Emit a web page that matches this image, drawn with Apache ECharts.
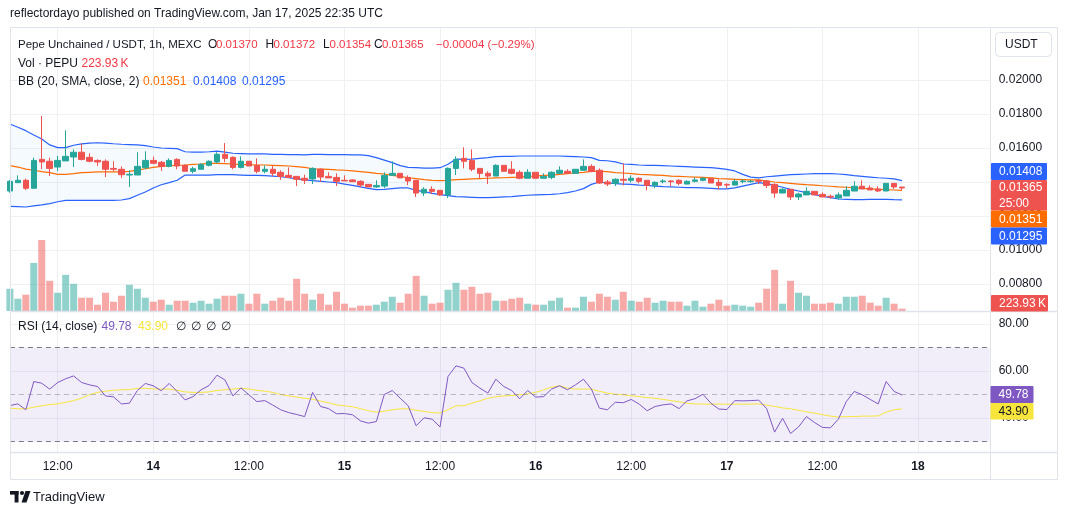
<!DOCTYPE html>
<html>
<head>
<meta charset="utf-8">
<title>PEPU/USDT 1h</title>
<script src="https://cdn.jsdelivr.net/npm/echarts@6.0.0/dist/echarts.min.js"></script>
<style>
html,body{margin:0;padding:0;background:#ffffff;}
#chart{width:1068px;height:515px;}
</style>
</head>
<body>
<div id="chart"></div>
<script>
// ---------------- data ----------------
const firstCandleUTC = Date.UTC(2025, 0, 13, 6, 0); // first hourly candle: Jan 13 2025 06:00 UTC
const timeSlots = 124;                              // hourly slots on the time scale (113 candles + empty future)

const opens = [
0.01347,0.01396,0.0141,0.01363,0.01533,0.01522,0.01488,0.01524,0.01547,0.01575,
0.01545,0.01527,0.01522,0.0148,0.01475,0.01441,0.01441,0.01484,0.01527,0.01516,
0.01492,0.01533,0.01498,0.01463,0.01475,0.01498,0.01518,0.01563,0.01545,0.01486,
0.01522,0.01498,0.01463,0.01475,0.01457,0.01439,0.01433,0.01422,0.01418,0.01475,
0.01433,0.01427,0.0141,0.01412,0.01404,0.01386,0.01371,0.01376,0.01439,0.01451,
0.01427,0.0141,0.01335,0.01357,0.01351,0.01324,0.0148,0.01539,0.01527,0.0148,
0.01451,0.01435,0.01498,0.01475,0.01457,0.01422,0.01457,0.01422,0.01427,0.01451,
0.01463,0.01451,0.01469,0.01492,0.01469,0.014,0.01392,0.01416,0.0141,0.01422,
0.0141,0.0138,0.01402,0.01406,0.0141,0.01388,0.01404,0.0141,0.01422,0.01398,
0.01386,0.01382,0.01402,0.01402,0.01408,0.01406,0.01386,0.01335,0.01357,0.01312,
0.01324,0.01345,0.01327,0.01316,0.01306,0.01318,0.01347,0.01375,0.01365,0.01359,
0.01347,0.01392,0.0137];
const closes = [
0.01404,0.0141,0.01363,0.01527,0.01518,0.0148,0.01527,0.01551,0.01575,0.01533,
0.01522,0.01518,0.01475,0.01475,0.01443,0.01445,0.01492,0.01527,0.0151,0.01492,
0.01527,0.01494,0.01463,0.01478,0.01504,0.01522,0.01563,0.01539,0.01486,0.01522,
0.01494,0.01463,0.01475,0.01451,0.01433,0.01427,0.01416,0.0141,0.0148,0.01429,
0.01424,0.01404,0.01406,0.01402,0.01382,0.01371,0.0138,0.01439,0.01451,0.01424,
0.01406,0.01335,0.01357,0.01345,0.01324,0.0148,0.01533,0.01522,0.01475,0.01451,
0.01435,0.01498,0.01463,0.01451,0.01422,0.01457,0.01422,0.01433,0.01457,0.01469,
0.01451,0.01475,0.01492,0.01463,0.01394,0.01388,0.01416,0.0141,0.01422,0.01404,
0.0138,0.01398,0.01406,0.01402,0.01392,0.01404,0.01412,0.01422,0.01394,0.0138,
0.01382,0.01404,0.01406,0.01404,0.01404,0.0138,0.01335,0.01357,0.01312,0.01329,
0.01345,0.01324,0.01312,0.01312,0.01324,0.01351,0.01375,0.01359,0.01353,0.01347,
0.01392,0.01371,0.01365];
const lows = [
0.01337,0.01396,0.01353,0.01363,0.01475,0.01435,0.01463,0.01524,0.01488,0.01527,
0.01516,0.01494,0.01429,0.01463,0.01424,0.01371,0.01441,0.01475,0.01504,0.01465,
0.01486,0.01475,0.01463,0.01451,0.01475,0.01492,0.0151,0.01516,0.01475,0.0148,
0.01494,0.01451,0.01451,0.01433,0.01412,0.01424,0.01376,0.01388,0.01388,0.014,
0.01424,0.01376,0.01406,0.014,0.01369,0.01371,0.01365,0.01365,0.01439,0.01424,
0.01382,0.01312,0.01318,0.01329,0.01318,0.01306,0.01441,0.0148,0.01463,0.01422,
0.01388,0.01435,0.01463,0.01445,0.01416,0.01422,0.01422,0.01422,0.01416,0.01445,
0.01451,0.01451,0.01469,0.01457,0.01388,0.01376,0.01376,0.0138,0.01398,0.01392,
0.01351,0.01363,0.01392,0.01375,0.0138,0.01386,0.01398,0.01404,0.01394,0.01357,
0.01363,0.0138,0.01392,0.01396,0.01388,0.01365,0.01306,0.01335,0.01294,0.01294,
0.01324,0.01324,0.01312,0.01302,0.01298,0.01318,0.01347,0.01359,0.01353,0.01341,
0.01347,0.01359,0.01354];
const highs = [
0.01412,0.01439,0.0142,0.01543,0.01788,0.01543,0.01553,0.01704,0.01592,0.01627,
0.01569,0.01533,0.01533,0.01522,0.01492,0.01469,0.01575,0.0158,0.01549,0.01524,
0.01539,0.01539,0.01504,0.0149,0.0151,0.01527,0.01575,0.01629,0.01551,0.01551,
0.01522,0.01539,0.01498,0.01498,0.01469,0.01486,0.01433,0.01443,0.01486,0.0148,
0.01457,0.01451,0.01439,0.01416,0.0141,0.01386,0.0141,0.01457,0.01522,0.01451,
0.01439,0.0141,0.01369,0.01375,0.01351,0.01486,0.01551,0.01604,0.01592,0.0148,
0.01463,0.01504,0.01498,0.01522,0.01469,0.01475,0.01457,0.01451,0.01463,0.01492,
0.01475,0.01475,0.01533,0.01504,0.0148,0.01412,0.01422,0.0151,0.01439,0.01427,
0.0141,0.01404,0.01416,0.0141,0.01416,0.0141,0.01427,0.01427,0.01422,0.01416,
0.01392,0.01416,0.01416,0.01412,0.01416,0.01412,0.01392,0.01363,0.01357,0.01337,
0.01369,0.01345,0.01339,0.01327,0.01339,0.01375,0.01404,0.0141,0.0138,0.01375,
0.01392,0.01392,0.01372];
const volumesK = [
2144,1184,1568,4640,6848,2912,1760,3488,2624,1280,
1280,608,1760,896,1472,2528,2144,1280,896,1088,
608,992,992,800,992,704,1184,1472,1472,1664,
704,1664,704,992,1280,992,3104,1664,1088,1664,
608,1856,704,320,512,512,608,896,1376,800,
1664,3392,1472,704,800,2048,2720,2048,2336,1664,
1760,992,992,1184,1280,704,608,608,992,1280,
320,320,1376,896,1664,1376,1088,1856,992,896,
1280,800,992,896,896,512,992,416,704,1088,
512,608,512,416,800,2144,3968,704,2912,1760,
1472,704,704,800,704,1376,1376,1472,800,512,
1280,704,223.93];
const bbUpper = [
0.01741,0.01722,0.01702,0.01676,0.01653,0.01618,0.01602,0.01602,0.01616,0.01624,
0.01629,0.01631,0.01629,0.01625,0.01622,0.0162,0.01618,0.01614,0.01606,0.016,
0.01598,0.01596,0.01578,0.01576,0.01576,0.01578,0.01582,0.01576,0.01569,0.01567,
0.01565,0.01565,0.01565,0.01563,0.01563,0.01561,0.01561,0.01559,0.01563,0.01563,
0.01561,0.01561,0.01561,0.01559,0.01559,0.01555,0.01543,0.01529,0.01514,0.01496,
0.01486,0.01484,0.01482,0.01482,0.01484,0.01504,0.01535,0.01533,0.01535,0.01539,
0.01543,0.01549,0.01551,0.01551,0.01553,0.01553,0.01553,0.01553,0.01553,0.01553,
0.01551,0.01549,0.01547,0.01543,0.01527,0.01525,0.01518,0.01506,0.01504,0.015,
0.01498,0.01498,0.01496,0.01494,0.01492,0.0149,0.01488,0.01486,0.01484,0.0148,
0.01474,0.01465,0.01445,0.01429,0.01424,0.01431,0.01435,0.01439,0.01443,0.01445,
0.01447,0.01449,0.01449,0.01449,0.01447,0.01443,0.01437,0.01433,0.01429,0.01425,
0.01422,0.01418,0.01408];
const bbMiddle = [
0.01496,0.01488,0.01476,0.01469,0.01461,0.01455,0.01445,0.01445,0.01449,0.01455,
0.01457,0.01459,0.01459,0.01459,0.01459,0.01462,0.0147,0.01478,0.01486,0.01492,
0.01496,0.01498,0.015,0.01504,0.01506,0.0151,0.0151,0.01508,0.01506,0.01502,
0.01502,0.015,0.015,0.01498,0.01496,0.01494,0.0149,0.01486,0.01478,0.01476,
0.01474,0.01471,0.01469,0.01465,0.01461,0.01457,0.01451,0.01447,0.01439,0.01433,
0.01425,0.0142,0.01414,0.0141,0.01408,0.0141,0.01414,0.01416,0.01418,0.0142,
0.01422,0.01424,0.01425,0.01427,0.01429,0.01433,0.01435,0.01439,0.01441,0.01445,
0.01449,0.01453,0.01457,0.01463,0.01463,0.01461,0.01455,0.01453,0.01449,0.01445,
0.01443,0.01441,0.01439,0.01435,0.01433,0.01431,0.01429,0.01427,0.01424,0.0142,
0.01418,0.01416,0.01414,0.01412,0.01412,0.01406,0.014,0.01396,0.01392,0.01388,
0.01384,0.01382,0.01378,0.01375,0.01371,0.01369,0.01365,0.01363,0.01359,0.01357,
0.01355,0.01353,0.01351];
const bbLower = [
0.01257,0.01255,0.01253,0.01259,0.01265,0.01273,0.01284,0.01292,0.01292,0.01292,
0.01292,0.01292,0.01292,0.01292,0.01294,0.01302,0.01322,0.01341,0.01365,0.01384,
0.01396,0.0141,0.01441,0.01441,0.01441,0.01441,0.01443,0.01443,0.01443,0.01441,
0.01439,0.01439,0.01437,0.01435,0.01431,0.01425,0.01418,0.01412,0.01408,0.01404,
0.014,0.01396,0.01388,0.0138,0.01371,0.01363,0.01355,0.01357,0.01361,0.01365,
0.01365,0.01351,0.01343,0.01333,0.01326,0.0132,0.01314,0.01312,0.0131,0.01308,
0.01308,0.0131,0.01312,0.01314,0.01318,0.01322,0.01324,0.01326,0.01327,0.01331,
0.01337,0.01347,0.01361,0.01386,0.014,0.01394,0.0139,0.01388,0.01386,0.01382,
0.0138,0.01376,0.01373,0.01371,0.01369,0.01367,0.01367,0.01365,0.01363,0.01359,
0.01359,0.01365,0.01376,0.01386,0.01396,0.0139,0.0138,0.01369,0.01357,0.01347,
0.01337,0.01326,0.01316,0.01308,0.013,0.01298,0.01296,0.01296,0.01298,0.01298,
0.01298,0.01296,0.01295];
const rsiValues = [
45.3,46.0,43.5,55.5,54.8,52.3,55.1,56.7,57.9,55.1,
54.1,53.4,49.4,49.0,46.0,46.3,51.7,54.7,53.7,51.6,
54.7,51.3,47.7,49.1,52.0,53.8,58.2,56.2,49.4,52.8,
49.9,47.0,47.4,45.5,43.5,42.3,41.5,40.6,50.9,44.9,
44.0,41.8,41.9,41.4,38.8,37.8,38.5,50.0,51.7,48.4,
45.2,36.7,40.1,39.5,36.2,57.7,62.2,61.2,55.1,52.7,
50.6,56.5,53.4,51.7,48.2,51.7,48.9,49.1,52.3,53.7,
52.0,54.1,56.5,52.3,44.2,43.5,46.7,46.5,47.9,45.9,
43.1,44.9,45.6,46.0,44.0,47.3,48.2,50.1,46.3,43.8,
43.6,47.4,47.3,47.4,47.6,44.0,34.0,39.9,33.4,36.2,
40.6,38.1,36.0,35.8,39.5,47.0,51.3,49.9,47.9,46.0,
55.5,51.3,49.78];
const rsiMA = [
44.2,43.9,43.9,44.6,45.2,45.7,46.0,46.7,47.4,48.4,
49.9,50.9,51.4,51.8,52.0,52.1,52.6,52.6,52.4,52.3,
52.3,51.8,51.1,50.9,50.9,51.1,51.7,52.0,52.3,52.7,
52.3,51.8,51.4,50.9,50.0,49.4,48.9,48.4,48.0,47.2,
46.5,45.6,45.2,44.8,44.0,43.1,42.5,42.9,43.5,43.9,
43.9,43.3,42.8,42.3,42.1,43.5,45.2,45.2,46.3,47.3,
48.4,49.0,49.4,49.6,49.9,50.3,50.9,52.0,53.1,53.7,
52.7,52.3,52.3,52.3,51.4,50.6,50.1,49.9,49.4,49.1,
48.7,48.4,47.9,47.4,46.9,46.3,46.0,45.9,45.9,45.9,
45.9,45.9,45.9,45.9,46.0,45.5,44.9,44.3,43.9,43.3,
42.6,42.1,41.4,40.8,40.4,40.6,40.6,40.8,40.8,40.9,
42.5,43.5,43.90];
const lastChange = -0.00004;
const lastChangePct = -0.29;
const rsiLevels = [70, 50, 30];
const priceTickLabels = ['0.00800','0.01000','0.01200','0.01400','0.01600','0.01800','0.02000'];
const rsiTickLabels = ['40.00','60.00','80.00'];

// ---------------- helpers ----------------
const FONT = '"Liberation Sans", Arial, sans-serif';
const UP = '#26a69a', DOWN = '#ef5350';
const UP_VOL = 'rgba(38,166,154,0.5)', DOWN_VOL = 'rgba(239,83,80,0.5)';
const GRIDC = '#eef0f3', BORDER = '#e0e3eb', TXT = '#131722', RED_TXT = '#f23645';
const categories = [];
for (let i = 0; i < timeSlots; i++) {
  categories.push(new Date(firstCandleUTC + i * 3600000).toISOString().slice(0, 16).replace('T', ' '));
}
const isMajor = (idx, val) => { const h = val.slice(11, 13); return h === '00' || h === '12'; };
const timeLabel = val => { const h = val.slice(11, 13); return h === '00' ? '{d|' + (+val.slice(8, 10)) + '}' : val.slice(11, 16); };
const L = opens.length - 1;
const f5 = v => v.toFixed(5);
const f2 = v => v.toFixed(2);

const candleData = opens.map((o, i) => [o, closes[i], lows[i], highs[i]]);
const volData = volumesK.map((v, i) => ({ value: v, itemStyle: { color: closes[i] >= opens[i] ? UP_VOL : DOWN_VOL } }));
const bandData = bbUpper.map((u, i) => +(u - bbLower[i]).toFixed(6));

const GL = 9.9, GR = 1068 - 989.7;

function txt(text, x, y, fill, size) {
  return { type: 'text', z: 100, x: x, y: y, style: { text: text, fill: fill, font: (size || 12) + 'px ' + FONT, align: 'left', verticalAlign: 'middle' } };
}
function tag(x, y, w, h, bg, lines, fg) {
  const out = [{ type: 'rect', z: 120, shape: { x: x, y: y, width: w, height: h, r: 1 }, style: { fill: bg } }];
  const step = h / lines.length;
  lines.forEach((t, i) => out.push({ type: 'text', z: 121, x: x + 8, y: y + step * i + step / 2 + 0.5, style: { text: t, fill: fg, font: '12px ' + FONT, align: 'left', verticalAlign: 'middle' } }));
  return out;
}

const chart = echarts.init(document.getElementById('chart'), null, { renderer: 'canvas' });
const hiddenX = gi => ({ type: 'category', gridIndex: gi, data: categories, boundaryGap: false, show: false });

const option = {
  animation: false,
  backgroundColor: '#ffffff',
  textStyle: { fontFamily: FONT },
  grid: [
    { left: GL, right: GR, top: 80, height: 204 },   // price
    { left: GL, right: GR, top: 240, height: 71 },   // volume
    { left: GL, right: GR, top: 277, height: 188 },  // RSI
    { left: GL, right: GR, top: 27, height: 425 }    // time scale / vertical grid
  ],
  xAxis: [
    hiddenX(0), hiddenX(1), hiddenX(2),
    {
      type: 'category', gridIndex: 3, data: categories, boundaryGap: false,
      axisLine: { show: false }, axisTick: { show: false },
      axisLabel: {
        interval: isMajor, formatter: timeLabel, color: TXT, fontSize: 12, margin: 9, fontFamily: FONT,
        rich: { d: { fontWeight: 'bold', fontSize: 12, color: TXT, fontFamily: FONT } }
      },
      splitLine: { show: true, interval: isMajor, lineStyle: { color: GRIDC, width: 1 } }
    }
  ],
  yAxis: [
    {
      type: 'value', gridIndex: 0, position: 'right', min: 0.008, max: 0.02, interval: 0.002,
      axisLine: { show: false }, axisTick: { show: false },
      axisLabel: { formatter: v => priceTickLabels[Math.round((v - 0.008) / 0.002)] || f5(v), color: TXT, fontSize: 12, margin: 9, fontFamily: FONT },
      splitLine: { lineStyle: { color: GRIDC, width: 1 } }
    },
    { type: 'value', gridIndex: 1, min: 0, max: v => v.max, show: false, splitLine: { show: false } },
    {
      type: 'value', gridIndex: 2, position: 'right', min: 20, max: 100, interval: 20,
      axisLine: { show: false }, axisTick: { show: false },
      axisLabel: { showMinLabel: false, showMaxLabel: false, formatter: v => rsiTickLabels[Math.round((v - 40) / 20)] || '', color: TXT, fontSize: 12, margin: 9, fontFamily: FONT },
      splitLine: { showMinLine: false, showMaxLine: false, lineStyle: { color: GRIDC, width: 1 } }
    },
    { type: 'value', gridIndex: 3, show: false, splitLine: { show: false } }
  ],
  series: [
    { name: 'bbBase', type: 'line', xAxisIndex: 0, yAxisIndex: 0, data: bbLower, stack: 'bb', symbol: 'none', lineStyle: { opacity: 0 }, silent: true, z: 1 },
    { name: 'bbBand', type: 'line', xAxisIndex: 0, yAxisIndex: 0, data: bandData, stack: 'bb', symbol: 'none', lineStyle: { opacity: 0 }, areaStyle: { color: 'rgba(33,150,243,0.06)' }, silent: true, z: 1 },
    { name: 'Volume', type: 'bar', xAxisIndex: 1, yAxisIndex: 1, data: volData, barWidth: 7, z: 2 },
    { name: 'Upper', type: 'line', xAxisIndex: 0, yAxisIndex: 0, data: bbUpper, symbol: 'none', lineStyle: { color: '#2962ff', width: 1.2 }, z: 3 },
    { name: 'Lower', type: 'line', xAxisIndex: 0, yAxisIndex: 0, data: bbLower, symbol: 'none', lineStyle: { color: '#2962ff', width: 1.2 }, z: 3 },
    { name: 'Basis', type: 'line', xAxisIndex: 0, yAxisIndex: 0, data: bbMiddle, symbol: 'none', lineStyle: { color: '#ff6d00', width: 1.2 }, z: 3 },
    {
      name: 'PEPU', type: 'candlestick', xAxisIndex: 0, yAxisIndex: 0, data: candleData, barWidth: 6, z: 4,
      itemStyle: { color: UP, color0: DOWN, borderColor: UP, borderColor0: DOWN, borderWidth: 1 }
    },
    {
      name: 'RSI', type: 'line', xAxisIndex: 2, yAxisIndex: 2, data: rsiValues, symbol: 'none',
      lineStyle: { color: '#7e57c2', width: 1 }, z: 4,
      markArea: { silent: true, itemStyle: { color: 'rgba(126,87,194,0.1)' }, data: [[{ yAxis: rsiLevels[0] }, { yAxis: rsiLevels[2] }]] },
      markLine: {
        silent: true, symbol: ['none', 'none'], label: { show: false },
        lineStyle: { color: '#787b86', type: [5, 4], width: 1 },
        data: [
          { yAxis: rsiLevels[0] },
          { yAxis: rsiLevels[1], lineStyle: { color: 'rgba(120,123,134,0.5)', type: [5, 4] } },
          { yAxis: rsiLevels[2] }
        ]
      }
    },
    { name: 'RSI MA', type: 'line', xAxisIndex: 2, yAxisIndex: 2, data: rsiMA, symbol: 'none', lineStyle: { color: '#f7e53b', width: 1 }, z: 3 }
  ],
  graphic: [].concat(
    [
      // frame and separators
      { type: 'rect', z: 90, shape: { x: 10.5, y: 27.5, width: 1047, height: 452 }, style: { fill: 'none', stroke: BORDER, lineWidth: 1 } },
      { type: 'line', z: 90, shape: { x1: 10, y1: 311.5, x2: 1058, y2: 311.5 }, style: { stroke: BORDER, lineWidth: 1.5 } },
      { type: 'line', z: 90, shape: { x1: 10, y1: 452.5, x2: 1058, y2: 452.5 }, style: { stroke: BORDER, lineWidth: 1.5 } },
      { type: 'line', z: 90, shape: { x1: 990.5, y1: 27, x2: 990.5, y2: 480 }, style: { stroke: BORDER, lineWidth: 1 } },
      // header
      txt('reflectordayo published on TradingView.com, Jan 17, 2025 22:35 UTC', 10, 14, TXT, 12),
      // legend line 1
      txt('Pepe Unchained / USDT, 1h, MEXC', 18, 45, TXT, 11.5),
      txt('O', 208, 45, TXT), txt(f5(opens[L]), 216, 45, RED_TXT, 11.5),
      txt('H', 265.5, 45, TXT), txt(f5(highs[L]), 273.5, 45, RED_TXT, 11.5),
      txt('L', 323, 45, TXT), txt(f5(lows[L]), 329.5, 45, RED_TXT, 11.5),
      txt('C', 374, 45, TXT), txt(f5(closes[L]), 382, 45, RED_TXT, 11.5),
      txt('\u2212' + Math.abs(lastChange).toFixed(5) + ' (\u2212' + Math.abs(lastChangePct).toFixed(2) + '%)', 436, 45, RED_TXT, 11.5),
      // legend line 2
      txt('Vol \u00b7 PEPU', 18, 63.5, TXT),
      txt(volumesK[L].toFixed(2) + '\u2009K', 81.5, 63.5, RED_TXT),
      // legend line 3
      txt('BB (20, SMA, close, 2)', 18, 81.5, TXT),
      txt(f5(bbMiddle[L]), 143, 81.5, '#ff6d00'),
      txt(f5(bbUpper[L]), 193, 81.5, '#2962ff'),
      txt(f5(bbLower[L]), 242, 81.5, '#2962ff'),
      // RSI legend
      txt('RSI (14, close)', 18, 327, TXT),
      txt(f2(rsiValues[L]), 101.5, 327, '#7e57c2'),
      txt(f2(rsiMA[L]), 138, 327, '#f7e53b'),
      txt('\u2205', 175.5, 327, TXT), txt('\u2205', 191, 327, TXT),
      txt('\u2205', 206, 327, TXT), txt('\u2205', 221, 327, TXT),
      // currency box
      { type: 'rect', z: 100, shape: { x: 995.5, y: 32.5, width: 56, height: 24, r: 4 }, style: { fill: '#ffffff', stroke: BORDER, lineWidth: 1 } },
      txt('USDT', 1005, 45, TXT, 12),
      // TradingView mark
      { type: 'rect', z: 100, shape: { x: 10, y: 491, width: 8.5, height: 3.6 }, style: { fill: TXT } },
      { type: 'rect', z: 100, shape: { x: 14.6, y: 491, width: 3.9, height: 11.5 }, style: { fill: TXT } },
      { type: 'circle', z: 100, shape: { cx: 22, cy: 493, r: 2.1 }, style: { fill: TXT } },
      { type: 'polygon', z: 100, shape: { points: [[25.5, 491], [30.5, 491], [26.5, 502.5], [21.5, 502.5]] }, style: { fill: TXT } },
      txt('TradingView', 33, 497.5, TXT, 13)
    ],
    // price / indicator tags on the scales
    tag(991, 163, 56, 17, '#2962ff', [f5(bbUpper[L])], '#ffffff'),
    tag(991, 180, 56, 30.5, '#ef5350', [f5(closes[L]), '25:00'], '#ffffff'),
    tag(991, 210.5, 56, 17, '#ff6d00', [f5(bbMiddle[L])], '#ffffff'),
    tag(991, 227.5, 56, 17, '#2962ff', [f5(bbLower[L])], '#ffffff'),
    tag(991, 295, 57, 16.5, '#ef5350', [volumesK[L].toFixed(2) + '\u2009K'], '#ffffff'),
    tag(990.5, 386, 43, 17, '#7e57c2', [f2(rsiValues[L])], '#ffffff'),
    tag(990.5, 403, 43, 16.5, '#f7e53b', [f2(rsiMA[L])], '#131722')
  )
};
chart.setOption(option);
</script>
</body>
</html>
